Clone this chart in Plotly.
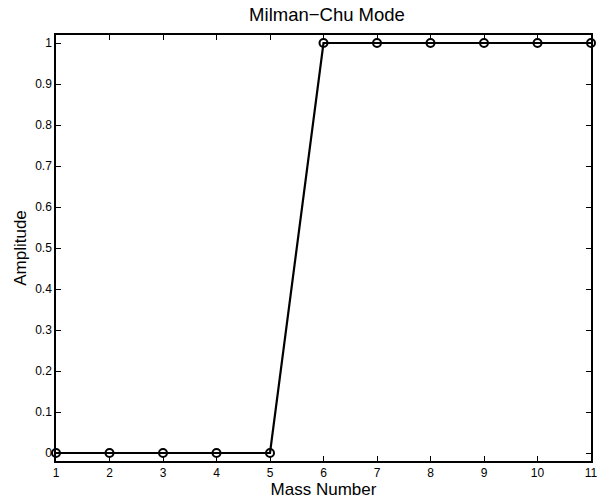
import plotly.graph_objects as go

mass_number = [1, 2, 3, 4, 5, 6, 7, 8, 9, 10, 11]
amplitude = [0, 0, 0, 0, 0, 1, 1, 1, 1, 1, 1]
x_ticks = list(range(1, 12))
y_ticks = [0, 0.1, 0.2, 0.3, 0.4, 0.5, 0.6, 0.7, 0.8, 0.9, 1]
y_tick_text = ["0", "0.1", "0.2", "0.3", "0.4", "0.5", "0.6", "0.7", "0.8", "0.9", "1"]

FONT = "Liberation Sans, Arial, sans-serif"

fig = go.Figure()
fig.add_trace(go.Scatter(
    x=mass_number, y=amplitude, mode="lines+markers",
    line=dict(color="black", width=2.2),
    marker=dict(symbol="circle-open", size=8, color="black", line=dict(width=2)),
    cliponaxis=False, showlegend=False,
))

axis_common = dict(
    showline=True, linecolor="black", linewidth=1.5, mirror="ticks",
    ticks="inside", ticklen=5, tickcolor="black", tickwidth=1,
    showgrid=False, zeroline=False,
    tickfont=dict(family=FONT, size=12, color="black"),
)

fig.update_layout(
    width=603, height=499,
    margin=dict(l=56, r=5, t=35, b=38),
    paper_bgcolor="white", plot_bgcolor="white",
    title=dict(text="Milman\u2212Chu Mode", x=(56 + 598) / 2 / 603, xanchor="center",
               y=1 - 15 / 499, yanchor="middle",
               font=dict(family=FONT, size=18.5, color="black")),
    xaxis=dict(range=[1, 11], tickvals=x_ticks,
               title=dict(text="Mass Number", standoff=0,
                          font=dict(family=FONT, size=17, color="black")),
               **axis_common),
    yaxis=dict(range=[-0.0195, 1.0195], tickvals=y_ticks, ticktext=y_tick_text,
               title=dict(text="Amplitude", standoff=4,
                          font=dict(family=FONT, size=17, color="black")),
               **axis_common),
)

fig.write_html("out.html")
